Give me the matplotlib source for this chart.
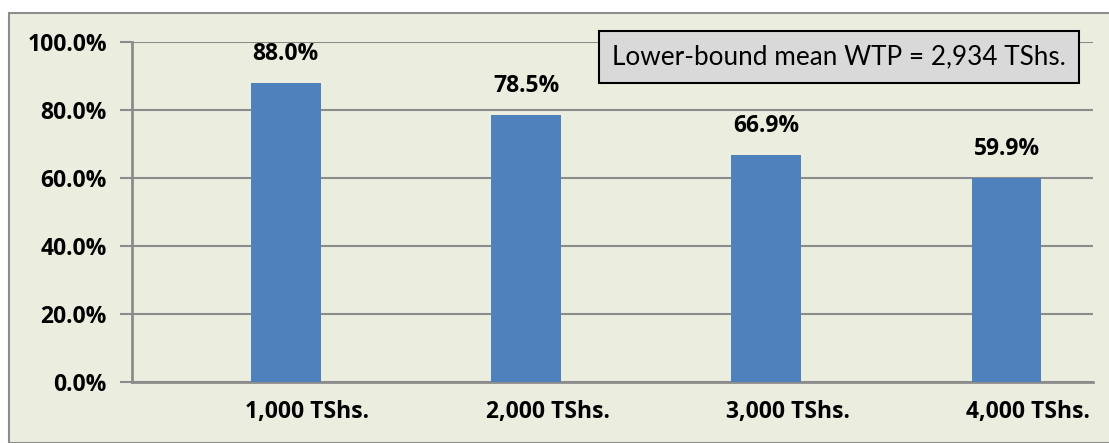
import matplotlib
matplotlib.use("Agg")
import matplotlib.pyplot as plt
from matplotlib.patches import Rectangle
from matplotlib.ticker import FuncFormatter

# data
categories = ["1,000 TShs.", "2,000 TShs.", "3,000 TShs.", "4,000 TShs."]
shares = [88.0, 78.5, 66.9, 59.9]
note_text = "Lower-bound mean WTP = 2,934 TShs."

BG = "#EBEEDF"
BAR = "#4F81BD"
GRID = "#8C8C8C"
BOLD_FONT = ["Open Sans", "DejaVu Sans"]
BOLD_SIZE = 16.5

plt.rcParams['font.family'] = ['Lato', 'DejaVu Sans']

W, H = 1109, 443
fig = plt.figure(figsize=(W / 100, H / 100), dpi=100)
fig.patch.set_facecolor("white")

# outer chart frame
frame = Rectangle((9 / W, 0), 1.0, 1 - 13 / H, transform=fig.transFigure,
                  facecolor=BG, edgecolor=GRID, linewidth=1.5, zorder=-5)
fig.patches.append(frame)

left, right, top, bottom = 132, 1093, 42, 382
ax = fig.add_axes([left / W, 1 - bottom / H, (right - left) / W, (bottom - top) / H])
ax.set_facecolor("none")
ax.set_zorder(2)

x = list(range(len(categories)))
ax.bar(x, shares, width=0.29, color=BAR, zorder=3)
ax.set_xlim(-0.64, 3.36)
ax.set_ylim(0, 100)

for xi, v in zip(x, shares):
    ax.annotate(f"{v:.1f}%", (xi, v), xytext=(0, 17), textcoords="offset pixels",
                ha="center", va="bottom", fontsize=BOLD_SIZE, fontweight="bold",
                family=BOLD_FONT)

ax.set_yticks([0, 20, 40, 60, 80, 100])
ax.yaxis.set_major_formatter(FuncFormatter(lambda v, p: f"{v:.1f}%"))
ax.tick_params(axis="y", length=9, width=1.5, color=GRID, pad=9)
for lab in ax.get_yticklabels():
    lab.set_fontweight("bold")
    lab.set_family(BOLD_FONT)
    lab.set_fontsize(BOLD_SIZE)

ax.set_xticks([xi + 0.09 for xi in x])
ax.set_xticklabels(categories, fontsize=BOLD_SIZE, fontweight="bold", family=BOLD_FONT)
ax.tick_params(axis="x", length=0, pad=13)

ax.grid(axis="y", color=GRID, linewidth=1.5, zorder=1)
ax.set_axisbelow(True)
for side in ["top", "right"]:
    ax.spines[side].set_visible(False)
for side in ["left", "bottom"]:
    ax.spines[side].set_color(GRID)
    ax.spines[side].set_linewidth(2)

# note box
fig.text(612 / W, 1 - 57 / H, note_text, fontsize=18.8, ha="left", va="center",
         zorder=5,
         bbox=dict(boxstyle="square,pad=0.5", facecolor="#D9D9D9",
                   edgecolor="black", linewidth=1.5))

fig.savefig("out.png", dpi=100, facecolor=fig.get_facecolor())
